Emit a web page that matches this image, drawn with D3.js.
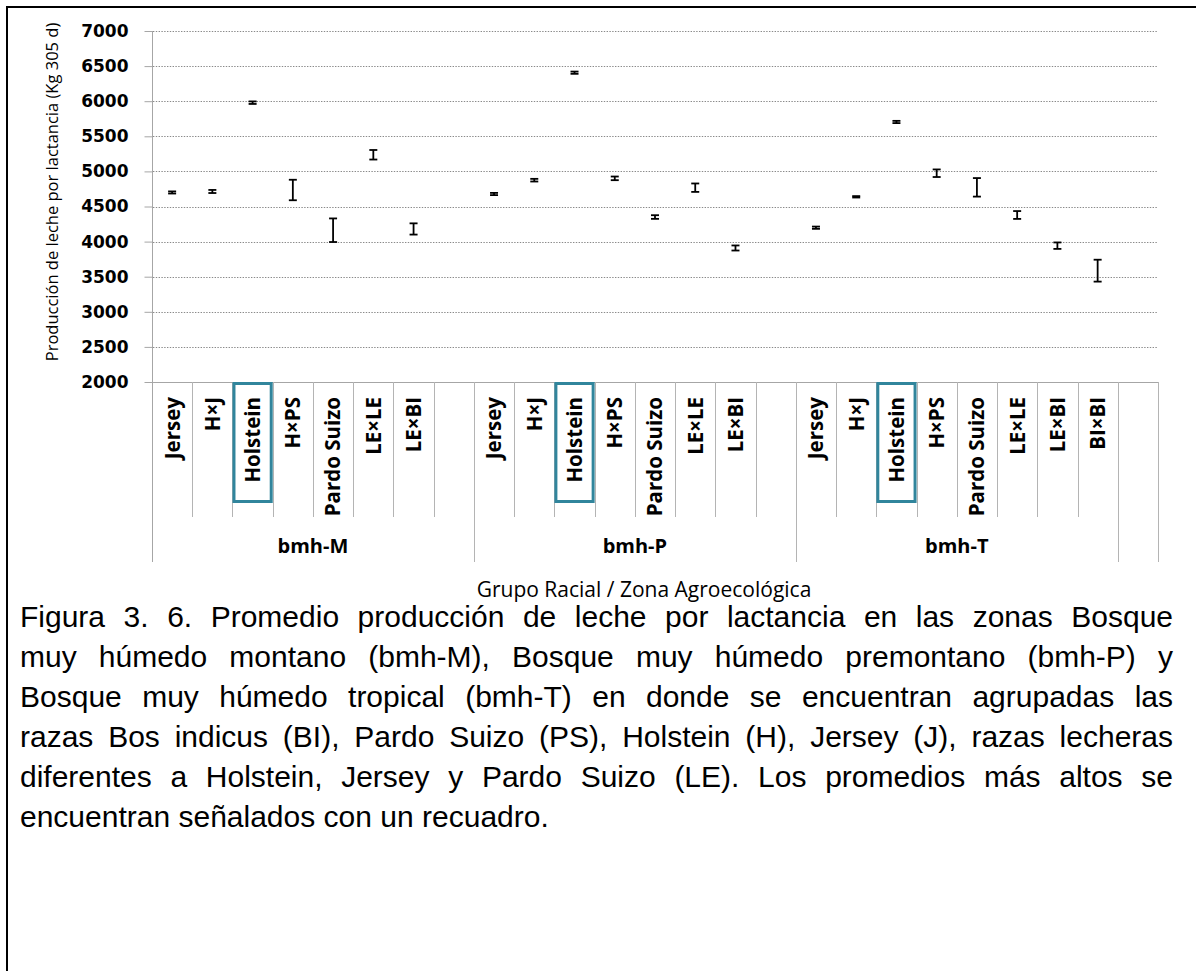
<!DOCTYPE html>
<html>
<head>
<meta charset="utf-8">
<script src="https://cdn.jsdelivr.net/npm/d3@7"></script>
<style>
  html, body { margin: 0; padding: 0; background: #fff; }
  svg { display: block; }
</style>
</head>
<body>
<svg id="chart" width="1196" height="971"></svg>
<script>
// Zones and breed groups on the two-level category axis
const zones = ["bmh-M", "bmh-P", "bmh-T"];
const breedsM = ["Jersey", "H×J", "Holstein", "H×PS", "Pardo Suizo", "LE×LE", "LE×BI"];
const breedsP = ["Jersey", "H×J", "Holstein", "H×PS", "Pardo Suizo", "LE×LE", "LE×BI"];
const breedsT = ["Jersey", "H×J", "Holstein", "H×PS", "Pardo Suizo", "LE×LE", "LE×BI", "BI×BI"];

// Mean milk yield per lactation (kg, 305 d) and error half-widths
const meanM = [4700, 4714, 5979, 4735, 4162, 5237, 4180];
const errM  = [15, 22, 18, 146, 168, 68, 80];
const meanP = [4678, 4875, 6406, 4901, 4350, 4768, 3909];
const errP  = [16, 19, 16, 26, 26, 60, 36];
const meanT = [4198, 4638, 5704, 4974, 4773, 4379, 3942, 3586];
const errT  = [16, 10, 16, 54, 132, 56, 46, 156];

// Highest mean of each zone, outlined with a box
const highlighted = ["Holstein"];

const yTicks = [2000, 2500, 3000, 3500, 4000, 4500, 5000, 5500, 6000, 6500, 7000];

const yTitle = "Producción de leche por lactancia (Kg 305 d)";
const xTitle = "Grupo Racial / Zona Agroecológica";
const captionLines = [
  "Figura 3. 6. Promedio producción de leche por lactancia en las zonas Bosque",
  "muy húmedo montano (bmh-M), Bosque muy húmedo premontano (bmh-P) y",
  "Bosque muy húmedo tropical (bmh-T) en donde se encuentran agrupadas las",
  "razas Bos indicus (BI), Pardo Suizo (PS), Holstein (H), Jersey (J), razas lecheras",
  "diferentes a Holstein, Jersey y Pardo Suizo (LE). Los promedios más altos se",
  "encuentran señalados con un recuadro."
];

// ---- category slots: 8 per zone, plus one trailing blank category
const groups = [
  { zone: zones[0], breeds: breedsM, mean: meanM, err: errM, slots: 8 },
  { zone: zones[1], breeds: breedsP, mean: meanP, err: errP, slots: 8 },
  { zone: zones[2], breeds: breedsT, mean: meanT, err: errT, slots: 8 }
];
const slots = [];
const points = [];
const groupSpans = [];
groups.forEach(g => {
  const start = slots.length;
  for (let i = 0; i < g.slots; i++) {
    const idx = slots.length;
    const breed = g.breeds[i] || "";
    slots.push({ idx, breed, zone: g.zone });
    if (i < g.breeds.length) points.push({ idx, breed, zone: g.zone, mean: g.mean[i], err: g.err[i] });
  }
  groupSpans.push({ zone: g.zone, start, end: slots.length });
});
slots.push({ idx: slots.length, breed: "", zone: "" });

const svg = d3.select("#chart");

const plotLeft = 152, plotRight = 1158, plotTop = 31, axisY = 382;
const x = d3.scaleBand().domain(d3.range(slots.length)).range([plotLeft, plotRight]).padding(0);
const y = d3.scaleLinear().domain([2000, 7000]).range([axisY, plotTop]);
const xEdge = i => (i < slots.length ? x(i) : plotRight);

// outer frame (left and top edges)
svg.append("line").attr("x1", 7).attr("x2", 7).attr("y1", 6).attr("y2", 971)
  .attr("stroke", "#000").attr("stroke-width", 2);
svg.append("line").attr("x1", 6).attr("x2", 1196).attr("y1", 7).attr("y2", 7)
  .attr("stroke", "#000").attr("stroke-width", 2);

// dotted horizontal gridlines
svg.append("g").selectAll("line").data(yTicks.filter(t => t > 2000)).join("line")
  .attr("x1", plotLeft + 1).attr("x2", plotRight)
  .attr("y1", d => Math.round(y(d)) + 0.5).attr("y2", d => Math.round(y(d)) + 0.5)
  .attr("stroke", "#8a8a8a").attr("stroke-width", 1).attr("stroke-dasharray", "1.4,1.4");

// y axis
const yAxis = d3.axisLeft(y).tickValues(yTicks).tickSize(8).tickPadding(16).tickFormat(d3.format("d"));
const gy = svg.append("g").attr("transform", `translate(${plotLeft + 0.5},0)`).call(yAxis);
gy.select(".domain").remove();
gy.selectAll(".tick line").attr("stroke", "#a6a6a6");
gy.selectAll(".tick text")
  .attr("font-family", "'DejaVu Sans', sans-serif").attr("font-weight", "bold")
  .attr("font-size", 17).attr("fill", "#000");

// category axis: baseline and slot separators
svg.append("line").attr("x1", plotLeft).attr("x2", plotRight).attr("y1", axisY + 0.5).attr("y2", axisY + 0.5)
  .attr("stroke", "#a6a6a6");
const groupEdges = new Set(groupSpans.map(g => g.start).concat([groupSpans[2].end, slots.length]));
svg.append("g").selectAll("line").data(d3.range(1, slots.length + 1)).join("line")
  .attr("x1", i => Math.round(xEdge(i)) + 0.5)
  .attr("x2", i => Math.round(xEdge(i)) + 0.5)
  .attr("y1", axisY)
  .attr("y2", i => groupEdges.has(i) ? 562 : 517)
  .attr("stroke", "#b4b4b4");
// value axis line, running down through the category area
svg.append("line").attr("x1", plotLeft + 0.5).attr("x2", plotLeft + 0.5).attr("y1", plotTop).attr("y2", 562)
  .attr("stroke", "#a6a6a6");

// highlight boxes
svg.append("g").selectAll("rect").data(points.filter(p => highlighted.includes(p.breed))).join("rect")
  .attr("x", d => x(d.idx) + 1.5).attr("y", axisY + 1.5)
  .attr("width", x.bandwidth() - 3).attr("height", 118)
  .attr("fill", "none").attr("stroke", "#31859C").attr("stroke-width", 3);

// category labels (rotated)
svg.append("g").selectAll("text").data(slots.filter(s => s.breed)).join("text")
  .attr("transform", d => `translate(${x(d.idx) + x.bandwidth() / 2},397) rotate(-90)`)
  .attr("text-anchor", "end").attr("dy", "0.36em")
  .attr("font-family", "'Open Sans', sans-serif").attr("font-weight", "bold")
  .attr("font-size", 20.5).attr("fill", "#000")
  .text(d => d.breed);

// zone labels
svg.append("g").selectAll("text").data(groupSpans).join("text")
  .attr("x", d => (x(d.start) + xEdge(d.end)) / 2)
  .attr("y", 553)
  .attr("text-anchor", "middle")
  .attr("font-family", "'Open Sans', sans-serif").attr("font-weight", "bold")
  .attr("font-size", 20).attr("fill", "#000")
  .text(d => d.zone);

// error bars
const eb = svg.append("g").selectAll("g").data(points).join("g")
  .attr("transform", d => `translate(${x(d.idx) + x.bandwidth() / 2},0)`);
eb.append("line").attr("x1", 0).attr("x2", 0)
  .attr("y1", d => y(d.mean + d.err)).attr("y2", d => y(d.mean - d.err))
  .attr("stroke", "#000").attr("stroke-width", 1.8);
eb.append("line").attr("x1", -4).attr("x2", 4)
  .attr("y1", d => y(d.mean + d.err)).attr("y2", d => y(d.mean + d.err))
  .attr("stroke", "#000").attr("stroke-width", 1.8);
eb.append("line").attr("x1", -4).attr("x2", 4)
  .attr("y1", d => y(d.mean - d.err)).attr("y2", d => y(d.mean - d.err))
  .attr("stroke", "#000").attr("stroke-width", 1.8);

// axis titles
svg.append("text")
  .attr("transform", "translate(52,192) rotate(-90)")
  .attr("text-anchor", "middle").attr("dy", "0.35em")
  .attr("font-family", "'Open Sans', sans-serif").attr("font-size", 16.5)
  .attr("fill", "#000")
  .text(yTitle);
svg.append("text")
  .attr("x", 644).attr("y", 597).attr("text-anchor", "middle")
  .attr("font-family", "'Open Sans', sans-serif").attr("font-size", 21).attr("fill", "#000")
  .text(xTitle);

// caption: justified paragraph, the last line left-aligned
const capLeft = 20, capWidth = 1153, capBase = 627, capLead = 40;
const capG = svg.append("g")
  .attr("font-family", "'Liberation Sans', Arial, sans-serif").attr("font-size", 30).attr("fill", "#000");
captionLines.forEach((line, li) => {
  const words = line.split(" ");
  const t = capG.append("text").attr("y", capBase + li * capLead);
  const spans = t.selectAll("tspan").data(words).join("tspan").text(d => d);
  const widths = spans.nodes().map(n => n.getComputedTextLength());
  const isLast = li === captionLines.length - 1;
  const spaceW = 30 * 0.278;
  const gap = isLast ? spaceW : (capWidth - d3.sum(widths)) / (words.length - 1);
  let cx = capLeft;
  spans.attr("x", (d, i) => { const p = cx; cx += widths[i] + gap; return p; });
});
</script>
</body>
</html>
